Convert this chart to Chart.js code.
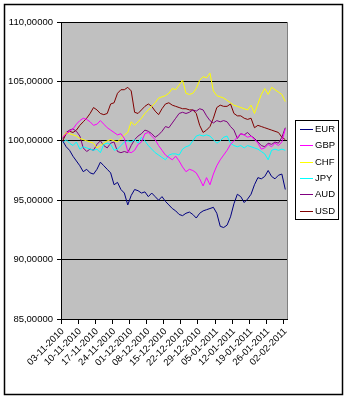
<!DOCTYPE html>
<html>
<head>
<meta charset="utf-8">
<script src="https://cdn.jsdelivr.net/npm/chart.js@4"></script>
<style>
  body { margin: 0; background: #fff; }
</style>
</head>
<body>
<canvas id="chart" width="348" height="400"></canvas>
<script>
// trading days, 03-11-2010 .. 02-02-2011
const dates = [
  '03-11-2010', '04-11-2010', '05-11-2010', '08-11-2010', '09-11-2010',
  '10-11-2010', '11-11-2010', '12-11-2010', '15-11-2010', '16-11-2010',
  '17-11-2010', '18-11-2010', '19-11-2010', '22-11-2010', '23-11-2010',
  '24-11-2010', '25-11-2010', '26-11-2010', '29-11-2010', '30-11-2010',
  '01-12-2010', '02-12-2010', '03-12-2010', '06-12-2010', '07-12-2010',
  '08-12-2010', '09-12-2010', '10-12-2010', '13-12-2010', '14-12-2010',
  '15-12-2010', '16-12-2010', '17-12-2010', '20-12-2010', '21-12-2010',
  '22-12-2010', '23-12-2010', '24-12-2010', '27-12-2010', '28-12-2010',
  '29-12-2010', '30-12-2010', '31-12-2010', '03-01-2011', '04-01-2011',
  '05-01-2011', '06-01-2011', '07-01-2011', '10-01-2011', '11-01-2011',
  '12-01-2011', '13-01-2011', '14-01-2011', '17-01-2011', '18-01-2011',
  '19-01-2011', '20-01-2011', '21-01-2011', '24-01-2011', '25-01-2011',
  '26-01-2011', '27-01-2011', '28-01-2011', '31-01-2011', '01-02-2011',
  '02-02-2011'
];

const eur = [
  100.0, 99.5, 99.2, 98.7, 98.3, 97.9, 97.4, 97.6, 97.3, 97.2,
  97.6, 98.2, 97.9, 97.6, 97.3, 96.3, 96.5, 95.9, 95.6, 94.6,
  95.4, 95.9, 95.8, 95.6, 95.7, 95.3, 95.6, 95.3, 95.0, 95.3,
  94.9, 94.6, 94.3, 94.1, 93.8, 93.7, 93.9, 94.0, 93.8, 93.5,
  93.9, 94.1, 94.2, 94.3, 94.4, 93.9, 92.8, 92.7, 92.9, 93.6,
  94.7, 95.5, 95.3, 94.8, 95.1, 95.5, 96.3, 96.9, 96.8, 97.0,
  97.5, 97.0, 96.8, 97.1, 97.2, 95.9
];
const gbp = [
  100.3, 100.6, 100.8, 101.0, 101.4, 101.7, 101.9, 101.8, 101.6, 101.3,
  101.4, 101.7, 101.4, 101.1, 100.9, 100.7, 100.5, 100.6, 100.2, 99.1,
  99.0, 99.2, 99.7, 99.9, 100.6, 100.7, 100.4, 100.1, 99.6, 99.2,
  98.8, 98.6, 98.4, 98.7, 98.3, 97.8, 97.4, 97.6, 97.5, 97.3,
  96.8, 96.2, 96.9, 96.3, 97.2, 97.9, 98.4, 98.8, 99.2, 99.7,
  100.0, 100.3, 100.6, 100.5, 100.3, 100.4, 100.1, 99.8, 99.3, 99.4,
  99.7, 99.5, 99.8, 99.6, 99.9, 101.0
];
const chf = [
  100.3, 100.7, 100.6, 100.5, 100.4, 100.2, 100.1, 100.0, 99.9, 99.8,
  99.4, 99.6, 99.8, 100.0, 100.1, 100.0, 99.9, 100.2, 100.5, 100.7,
  101.6, 101.3, 101.6, 101.9, 102.3, 102.6, 102.9, 103.2, 103.6, 103.7,
  103.8, 104.0, 104.4, 104.3, 104.7, 105.1, 104.0, 103.9, 104.0, 104.4,
  105.1, 105.4, 105.3, 105.7, 104.2, 103.8, 103.7, 103.6, 103.4, 103.2,
  103.0, 102.9, 102.8, 102.7, 102.6, 103.0, 102.3, 103.1, 103.9, 104.4,
  103.9, 104.5, 104.3, 104.1, 103.9, 103.3
];
const jpy = [
  99.8, 100.1, 99.8, 99.6, 99.9, 99.3, 99.5, 99.4, 99.3, 99.2,
  99.3, 99.0, 99.7, 99.8, 99.7, 99.2, 99.3, 99.6, 99.9, 100.0,
  99.9, 100.1, 99.8, 100.3, 100.0, 99.6, 99.3, 99.0, 98.8, 98.6,
  98.4, 98.8, 98.9, 98.9, 98.8, 99.3, 99.5, 99.6, 100.0, 100.4,
  100.5, 100.4, 100.5, 100.4, 100.1, 99.8, 100.0, 100.3, 100.4, 99.8,
  99.6, 99.5, 99.6, 99.4, 99.6, 99.5, 99.4, 99.3, 99.1, 98.9,
  98.4, 99.2, 99.3, 99.2, 99.3, 99.2
];
const aud = [
  100.2, 100.7, 100.9, 101.0, 100.8, 100.4, 99.4, 99.1, 99.3, 99.2,
  99.7, 100.0, 99.6, 99.4, 99.8, 99.9, 99.1, 99.0, 99.1, 99.0,
  99.6, 100.1, 100.4, 100.6, 100.9, 100.8, 100.6, 100.3, 100.5, 100.8,
  101.2, 101.1, 101.5, 101.9, 102.3, 102.4, 102.3, 102.4, 102.6, 102.5,
  102.7, 102.6, 102.1, 101.7, 101.5, 101.7, 101.6, 101.7, 101.6, 101.2,
  100.9, 100.2, 100.6, 100.5, 100.7, 100.4, 100.2, 99.9, 99.6, 99.5,
  99.8, 99.7, 99.9, 99.8, 100.3, 101.1
];
const usd = [
  100.0, 100.6, 100.8, 100.7, 100.9, 101.3, 101.6, 101.9, 102.3, 102.8,
  102.6, 102.3, 102.2, 102.3, 103.1, 103.2, 104.0, 104.3, 104.3, 104.5,
  104.2, 102.4, 102.3, 102.6, 102.9, 103.1, 102.9, 102.5, 102.2, 102.7,
  103.1, 103.2, 103.0, 102.9, 102.8, 102.7, 102.7, 102.6, 102.6, 102.3,
  101.3, 100.7, 100.9, 101.2, 101.9, 102.8, 103.0, 102.9, 102.9, 103.1,
  102.3, 102.1, 102.1, 101.9, 101.8, 101.9, 101.1, 101.3, 101.2, 101.1,
  101.0, 100.9, 100.8, 100.7, 100.3, 100.1
];

const yTicks = [85, 90, 95, 100, 105, 110];

const FONT = "'Liberation Sans', Arial, sans-serif";
const FONT_SIZE = 9.5;

function series(label, data, color) {
  return { label, data, borderColor: color, backgroundColor: color,
           borderWidth: 1, pointRadius: 0, tension: 0, fill: false };
}

// white page, outer frame and grey plot area
const frame = {
  id: 'frame',
  beforeDraw(chart) {
    const { ctx, chartArea: a } = chart;
    ctx.save();
    ctx.fillStyle = '#fff';
    ctx.fillRect(0, 0, chart.width, chart.height);
    ctx.strokeStyle = '#000';
    ctx.lineWidth = 1.5;
    ctx.strokeRect(4.5, 4.5, 338, 390);
    ctx.fillStyle = '#c0c0c0';
    ctx.fillRect(a.left, a.top, a.right - a.left, a.bottom - a.top);
    ctx.strokeStyle = '#808080';
    ctx.lineWidth = 1;
    ctx.strokeRect(a.left + 0.5, a.top + 0.5, a.right - a.left, a.bottom - a.top);
    ctx.restore();
  }
};

// Excel style legend box on the right
const boxLegend = {
  id: 'boxLegend',
  afterDraw(chart) {
    const ctx = chart.ctx;
    ctx.save();
    ctx.strokeStyle = '#000';
    ctx.lineWidth = 1;
    ctx.strokeRect(295.5, 120.5, 43, 99);
    ctx.font = FONT_SIZE + 'px ' + FONT;
    ctx.textBaseline = 'middle';
    chart.data.datasets.forEach((ds, i) => {
      const y = Math.round(129 + i * 16.3) + 0.5;
      ctx.strokeStyle = ds.borderColor;
      ctx.beginPath();
      ctx.moveTo(300, y);
      ctx.lineTo(313, y);
      ctx.stroke();
      ctx.fillStyle = '#000';
      ctx.fillText(ds.label, 315, y);
    });
    ctx.restore();
  }
};

new Chart(document.getElementById('chart'), {
  type: 'line',
  data: {
    labels: dates,
    datasets: [
      series('EUR', eur, '#000080'),
      series('GBP', gbp, '#ff00ff'),
      series('CHF', chf, '#ffff00'),
      series('JPY', jpy, '#00ffff'),
      series('AUD', aud, '#800080'),
      series('USD', usd, '#800000')
    ]
  },
  options: {
    responsive: false,
    animation: false,
    layout: { padding: { top: 22, right: 61, left: 0, bottom: 0 } },
    plugins: {
      legend: { display: false },
      tooltip: { enabled: false }
    },
    scales: {
      x: {
        offset: true,
        afterFit: (s) => { s.height = 81; },
        border: { color: '#000' },
        grid: {
          offset: true,
          drawOnChartArea: false,
          tickLength: 5,
          color: (c) => (c.index % 5 === 0 ? '#000' : 'rgba(0,0,0,0)')
        },
        ticks: {
          autoSkip: false,
          minRotation: 45,
          maxRotation: 45,
          padding: 2,
          color: '#000',
          font: { family: FONT, size: FONT_SIZE },
          callback: function (v, i) { return i % 5 === 0 ? this.getLabelForValue(v) : ''; }
        }
      },
      y: {
        min: yTicks[0],
        max: yTicks[yTicks.length - 1],
        afterFit: (s) => { s.width = 61; },
        afterBuildTicks: (s) => { s.ticks = yTicks.map(v => ({ value: v })); },
        border: { color: '#000' },
        grid: { color: '#000', tickLength: 4 },
        ticks: {
          padding: 4,
          color: '#000',
          font: { family: FONT, size: FONT_SIZE },
          callback: (v) => v.toFixed(5).replace('.', ',')
        }
      }
    }
  },
  plugins: [frame, boxLegend]
});
</script>
</body>
</html>
